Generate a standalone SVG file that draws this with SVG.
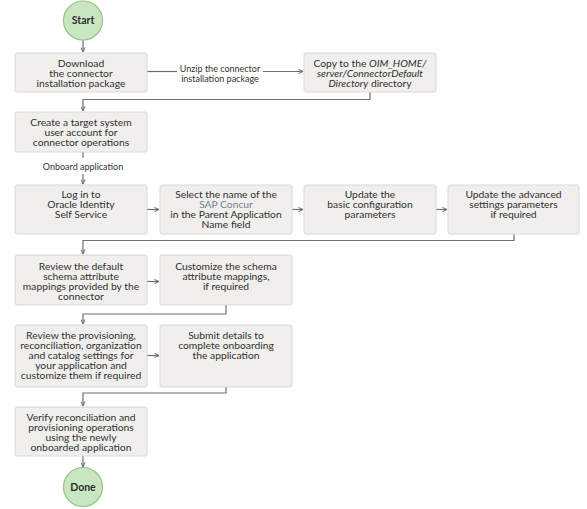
<svg xmlns="http://www.w3.org/2000/svg" width="587" height="509" viewBox="0 0 587 509">
<style>
.box{fill:#f1efed;stroke:#dcd8d4;stroke-width:1}
.term{fill:#c9e6c2;stroke:#93c487;stroke-width:1.2}
.t{font-family:Lato,"Liberation Sans",sans-serif;font-size:10.3px;fill:#2f2f2f;text-anchor:middle}
.tb{font-family:Lato,"Liberation Sans",sans-serif;font-size:10.5px;font-weight:bold;fill:#2e2e2e;text-anchor:middle}
.lbl{font-family:Lato,"Liberation Sans",sans-serif;font-size:9px;fill:#333333;text-anchor:middle}
.c{fill:none;stroke:#6e6e6e;stroke-width:1.2}
.a{marker-end:url(#ah)}
</style>
<defs>
<marker id="ah" viewBox="0 0 6 6" refX="5.5" refY="3" markerWidth="5" markerHeight="5" orient="auto" markerUnits="userSpaceOnUse">
<path d="M0,0.5 L5.5,3 L0,5.5" fill="none" stroke="#6e6e6e" stroke-width="1.2"/>
</marker>
</defs>
<rect width="587" height="509" fill="#ffffff"/>
<g id="connectors">
<path class="c a" d="M83,40 V52"/>
<path class="c" d="M147,71.5 H177"/>
<path class="c a" d="M263,71.5 H303"/>
<path class="c a" d="M370,92 V99.5 H83 V111"/>
<path class="c" d="M83,152 V158"/>
<path class="c a" d="M83,174 V184"/>
<path class="c a" d="M147,209.5 H159"/>
<path class="c a" d="M292,209.5 H303"/>
<path class="c a" d="M436,209.5 H447"/>
<path class="c a" d="M514,234 V240.5 H83 V254"/>
<path class="c a" d="M147,281.5 H159"/>
<path class="c a" d="M226,305 V314 H83 V324"/>
<path class="c a" d="M147,355.5 H159"/>
<path class="c a" d="M226,387 V393 H83 V406"/>
<path class="c a" d="M83,456 V467"/>
<text class="lbl" x="220" y="72">Unzip the connector</text>
<text class="lbl" x="220" y="81.5">installation package</text>
<text class="lbl" x="83" y="169.5">Onboard application</text>
</g>
<g id="start">
<circle class="term" cx="83" cy="20.5" r="19.5"/>
<text class="tb" x="83" y="24.3">Start</text>
</g>
<g id="download">
<rect class="box" x="15" y="53" width="132" height="39" rx="2"/>
<text class="t" x="81" y="66.5">Download</text>
<text class="t" x="81" y="76.5">the connector</text>
<text class="t" x="81" y="86.5">installation package</text>
</g>
<g id="copy">
<rect class="box" x="304" y="53" width="132" height="39" rx="2"/>
<text class="t" x="370" y="66.5">Copy to the <tspan font-style="italic">OIM_HOME/</tspan></text>
<text class="t" x="370" y="76.5" font-style="italic">server/ConnectorDefault</text>
<text class="t" x="370" y="86.5"><tspan font-style="italic">Directory</tspan> directory</text>
</g>
<g id="create">
<rect class="box" x="15" y="112" width="132" height="40" rx="2"/>
<text class="t" x="81" y="125.5">Create a target system</text>
<text class="t" x="81" y="135.5">user account for</text>
<text class="t" x="81" y="145.5">connector operations</text>
</g>
<g id="login">
<rect class="box" x="15" y="185" width="132" height="49" rx="2"/>
<text class="t" x="81" y="197.5">Log in to</text>
<text class="t" x="81" y="207.5">Oracle Identity</text>
<text class="t" x="81" y="217.5">Self Service</text>
</g>
<g id="select">
<rect class="box" x="160" y="185" width="132" height="49" rx="2"/>
<text class="t" x="226" y="197.5">Select the name of the</text>
<text class="t" x="226" y="207.5" style="fill:#6f8190">SAP Concur</text>
<text class="t" x="226" y="217.5">in the Parent Application</text>
<text class="t" x="226" y="227.5">Name field</text>
</g>
<g id="basic">
<rect class="box" x="304" y="185" width="132" height="49" rx="2"/>
<text class="t" x="370" y="198">Update the</text>
<text class="t" x="370" y="208">basic configuration</text>
<text class="t" x="370" y="218">parameters</text>
</g>
<g id="advanced">
<rect class="box" x="448" y="185" width="131" height="49" rx="2"/>
<text class="t" x="513.5" y="198">Update the advanced</text>
<text class="t" x="513.5" y="208">settings parameters</text>
<text class="t" x="513.5" y="218">if required</text>
</g>
<g id="review-default">
<rect class="box" x="15" y="255" width="132" height="50" rx="2"/>
<text class="t" x="81" y="269.5">Review the default</text>
<text class="t" x="81" y="279.5">schema attribute</text>
<text class="t" x="81" y="289.5">mappings provided by the</text>
<text class="t" x="81" y="299.5">connector</text>
</g>
<g id="customize">
<rect class="box" x="160" y="255" width="132" height="50" rx="2"/>
<text class="t" x="226" y="269.5">Customize the schema</text>
<text class="t" x="226" y="279.5">attribute mappings,</text>
<text class="t" x="226" y="289.5">if required</text>
</g>
<g id="review-prov">
<rect class="box" x="15" y="325" width="132" height="62" rx="2"/>
<text class="t" x="81" y="338.5">Review the provisioning,</text>
<text class="t" x="81" y="348.5">reconciliation, organization</text>
<text class="t" x="81" y="358.5">and catalog settings for</text>
<text class="t" x="81" y="368.5">your application and</text>
<text class="t" x="81" y="378.5">customize them if required</text>
</g>
<g id="submit">
<rect class="box" x="160" y="325" width="132" height="62" rx="2"/>
<text class="t" x="226" y="338.5">Submit details to</text>
<text class="t" x="226" y="348.5">complete onboarding</text>
<text class="t" x="226" y="358.5">the application</text>
</g>
<g id="verify">
<rect class="box" x="15" y="407" width="132" height="49" rx="2"/>
<text class="t" x="81" y="420.5">Verify reconciliation and</text>
<text class="t" x="81" y="430.5">provisioning operations</text>
<text class="t" x="81" y="440.5">using the newly</text>
<text class="t" x="81" y="450.5">onboarded application</text>
</g>
<g id="done">
<circle class="term" cx="83" cy="487" r="19.5"/>
<text class="tb" x="83" y="490.8">Done</text>
</g>
</svg>
